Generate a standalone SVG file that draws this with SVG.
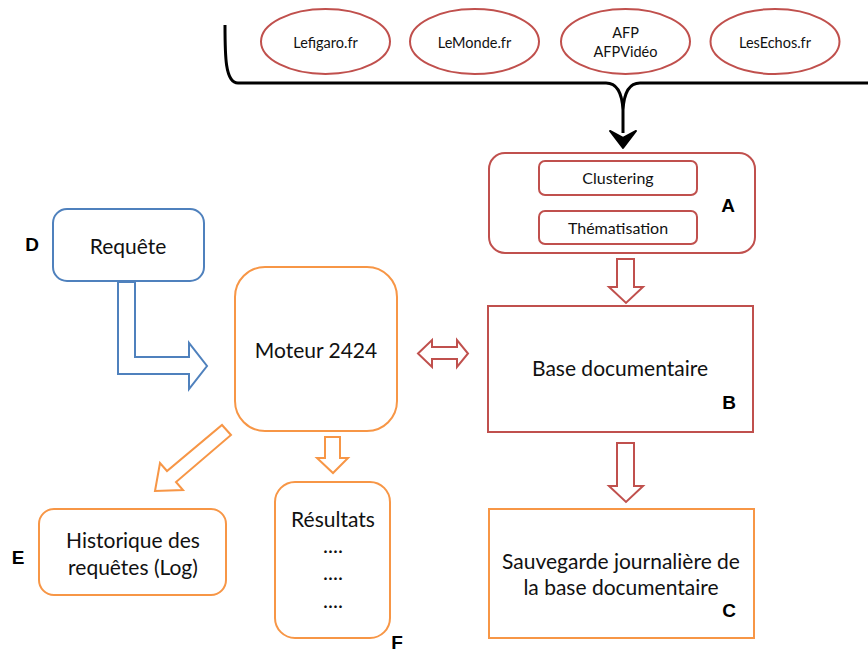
<svg xmlns="http://www.w3.org/2000/svg" width="868" height="649" viewBox="0 0 868 649">
<style>
text{font-family:Lato,"Open Sans","Liberation Sans",sans-serif;fill:#111;text-anchor:middle}
.lbl{font-size:21px}
.sm{font-size:14.5px}
.md{font-size:16px}
.let{font-family:"Liberation Sans",Arial,sans-serif;font-weight:bold;font-size:19px;fill:#000}
.red{fill:#fff;stroke:#C0504D;stroke-width:2}
.org{fill:#fff;stroke:#F79646;stroke-width:2}
.blu{fill:#fff;stroke:#4F81BD;stroke-width:2}
</style>
<rect width="868" height="649" fill="#fff"/>
<g id="sources">
<g id="lefigaro"><ellipse class="red" cx="325.5" cy="41.5" rx="64.5" ry="32.5"/><text class="sm" x="325.5" y="48">Lefigaro.fr</text></g>
<g id="lemonde"><ellipse class="red" cx="474.5" cy="41.5" rx="64.5" ry="32.5"/><text class="sm" x="474.5" y="48">LeMonde.fr</text></g>
<g id="afp"><ellipse class="red" cx="625.5" cy="41.5" rx="64.5" ry="32.5"/><text class="sm" x="625.5" y="38">AFP</text><text class="sm" x="625.5" y="57">AFPVidéo</text></g>
<g id="lesechos"><ellipse class="red" cx="775" cy="41.5" rx="64.5" ry="32.5"/><text class="sm" x="775" y="48">LesEchos.fr</text></g>
</g>
<g id="connectors">
<path d="M225,25 C225,55 225,83 238,83 L606,83 C617,83 622,92 623,110 M868,83 L640,83 C629,83 624,92 623,110 L623,133" fill="none" stroke="#000" stroke-width="3"/>
<polygon points="610,131 623,138 636,131 623,148" fill="#000" stroke="#000" stroke-width="2" stroke-linejoin="round"/>
<polygon class="red" points="617,259 634,259 634,287 643,287 626,303 609,287 617,287"/>
<polygon class="red" points="617,443 634,443 634,486 643,486 626,502 609,486 617,486"/>
<polygon class="red" points="418,353.5 432,340 432,347 457,347 457,340 468,353.5 457,367 457,359 432,359 432,367"/>
<polygon class="blu" points="118,282 135,282 135,357 189,357 189,343 207,366 189,389 189,374 118,374"/>
<polygon class="org" points="325,437 340,437 340,458 348,458 333,473 317,458 325,458"/>
<polygon class="org" points="231,435 222,425 167,471 160,463 155,491 183,490 176,482"/>
</g>
<g id="A">
<rect class="red" x="489" y="153" width="266" height="100" rx="16"/>
<rect class="red" x="539" y="161" width="158" height="34" rx="6"/>
<rect class="red" x="539" y="211" width="158" height="33" rx="6"/>
<text class="md" x="618" y="184">Clustering</text>
<text class="md" x="618" y="234">Thématisation</text>
<text class="let" x="728" y="212">A</text>
</g>
<g id="B">
<rect class="red" x="488" y="306" width="265" height="126"/>
<text class="lbl" x="620" y="376">Base documentaire</text>
<text class="let" x="729" y="409">B</text>
</g>
<g id="C">
<rect class="org" x="489" y="509" width="265" height="129"/>
<text class="lbl" x="621" y="569">Sauvegarde journalière de</text>
<text class="lbl" x="621" y="595">la base documentaire</text>
<text class="let" x="729" y="617">C</text>
</g>
<g id="D">
<rect class="blu" x="53" y="209" width="151" height="72" rx="14"/>
<text class="lbl" x="128" y="254">Requête</text>
<text class="let" x="32" y="251">D</text>
</g>
<g id="moteur">
<rect class="org" x="235" y="267" width="162" height="164" rx="30"/>
<text class="lbl" x="316" y="358">Moteur 2424</text>
</g>
<g id="E">
<rect class="org" x="39" y="509" width="187" height="86" rx="15"/>
<text class="lbl" x="133" y="548">Historique des</text>
<text class="lbl" x="133" y="575">requêtes (Log)</text>
<text class="let" x="18" y="564">E</text>
</g>
<g id="F">
<rect class="org" x="275" y="482" width="115" height="156" rx="20"/>
<text class="lbl" x="333" y="527">Résultats</text>
<text class="lbl" x="333" y="553">....</text>
<text class="lbl" x="333" y="580">....</text>
<text class="lbl" x="333" y="608">....</text>
<text class="let" x="397" y="649">F</text>
</g>
</svg>
